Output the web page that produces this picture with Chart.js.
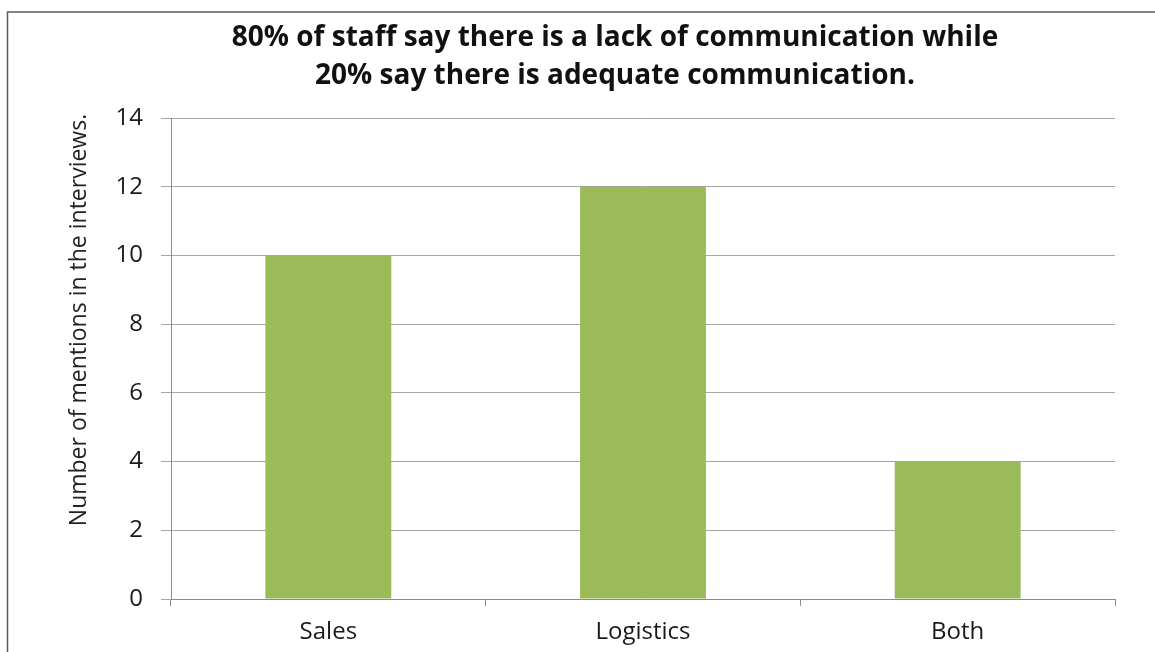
<!DOCTYPE html>
<html lang="en">
<head>
    <meta charset="UTF-8">
    <title>Communication mentions</title>
    <script src="https://cdn.jsdelivr.net/npm/chart.js"></script>
    <style>
        html, body { margin: 0; padding: 0; background: #fff; }
        canvas { display: block; }
    </style>
</head>
<body>
    <canvas id="mentionsChart" width="1155" height="652"></canvas>

    <script>
        const categories = ['Sales', 'Logistics', 'Both'];
        const mentions = [10, 12, 4];
        const titleLines = [
            '80% of staff say there is a lack of communication while',
            '20% say there is adequate communication.'
        ];
        const yAxisTitle = 'Number of mentions in the interviews.';

        // white background, outer frame, title and the rotated axis title
        const decorations = {
            id: 'decorations',
            beforeDraw(chart) {
                const ctx = chart.ctx;
                ctx.save();
                ctx.fillStyle = '#ffffff';
                ctx.fillRect(0, 0, chart.width, chart.height);
                ctx.strokeStyle = '#5a5a5a';
                ctx.lineWidth = 1.5;
                ctx.strokeRect(7.5, 12, chart.width + 20, chart.height + 20);
                ctx.restore();
            },
            afterDraw(chart) {
                const ctx = chart.ctx;
                ctx.save();
                ctx.fillStyle = '#111111';
                ctx.textAlign = 'center';
                ctx.textBaseline = 'alphabetic';
                ctx.font = 'bold 28px "Open Sans"';
                ctx.fillText(titleLines[0], 615, 46);
                ctx.fillText(titleLines[1], 615, 84);

                ctx.translate(79, 320);
                ctx.rotate(-Math.PI / 2);
                ctx.textBaseline = 'middle';
                ctx.font = '23px "Open Sans"';
                ctx.fillStyle = '#222222';
                ctx.fillText(yAxisTitle, 0, 0);
                ctx.restore();
            }
        };

        const ctx = document.getElementById('mentionsChart').getContext('2d');
        new Chart(ctx, {
            type: 'bar',
            data: {
                labels: categories,
                datasets: [{
                    label: 'Mentions',
                    data: mentions,
                    backgroundColor: '#9bbb59',
                    borderWidth: 0,
                    barPercentage: 0.4,
                    categoryPercentage: 1
                }]
            },
            options: {
                responsive: false,
                animation: false,
                layout: {
                    padding: { top: 118, right: 40, bottom: 0, left: 0 }
                },
                plugins: {
                    legend: { display: false },
                    tooltip: { enabled: false }
                },
                scales: {
                    x: {
                        afterFit: (scale) => { scale.height = 53; },
                        grid: {
                            offset: true,
                            drawOnChartArea: false,
                            drawTicks: true,
                            tickLength: 7,
                            color: '#8c8c8c'
                        },
                        border: { display: true, color: '#8c8c8c', width: 1 },
                        ticks: {
                            color: '#1a1a1a',
                            font: { family: 'Open Sans', size: 24 },
                            padding: 12
                        }
                    },
                    y: {
                        min: 0,
                        max: 14,
                        afterFit: (scale) => { scale.width = 171; },
                        grid: {
                            color: '#a6a6a6',
                            tickLength: 10,
                            drawTicks: true
                        },
                        border: { display: true, color: '#8c8c8c', width: 1 },
                        ticks: {
                            stepSize: 2,
                            color: '#1a1a1a',
                            font: { family: 'Open Sans', size: 24 },
                            padding: 18
                        }
                    }
                }
            },
            plugins: [decorations]
        });
    </script>
</body>
</html>
